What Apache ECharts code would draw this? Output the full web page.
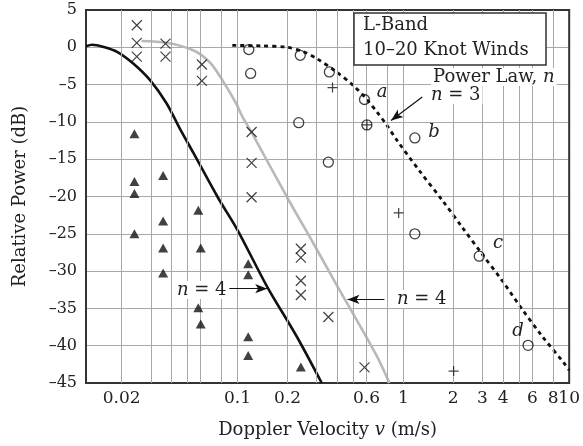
<!DOCTYPE html>
<html>
<head>
<meta charset="utf-8">
<script src="https://cdn.jsdelivr.net/npm/echarts@6/dist/echarts.min.js"></script>
<style>html,body{margin:0;padding:0;background:#fff;}#c{width:583px;height:446px;}</style>
</head>
<body>
<div id="c"></div>
<script>
// ---- data ----
const xTickLabels = [0.02, 0.1, 0.2, 0.6, 1, 2, 3, 4, 6, 8, 10];
const xGridValues = [0.02, 0.03, 0.04, 0.05, 0.06, 0.08, 0.1, 0.2, 0.3, 0.4, 0.5, 0.6, 0.8, 1, 2, 3, 4, 5, 6, 8];

const blackV  = [0.0122, 0.0133, 0.0156, 0.0188, 0.0236, 0.0297, 0.0373, 0.0449, 0.054, 0.076, 0.1, 0.151, 0.228, 0.322];
const blackDb = [0.15, 0.35, 0.05, -0.6, -2.2, -4.4, -7.5, -10.9, -14.1, -20.1, -24.5, -32.1, -38.8, -45];

const grayV  = [0.0264, 0.0373, 0.054, 0.068, 0.081, 0.098, 0.107, 0.123, 0.199, 0.287, 0.395, 0.685, 0.824];
const grayDb = [0.85, 0.6, -0.4, -2.0, -4.4, -7.5, -9.3, -11.6, -20.1, -26.3, -31.8, -41.2, -45];

const dashV  = [0.093, 0.138, 0.199, 0.25, 0.30, 0.395, 0.498, 0.598, 0.70, 0.787, 0.904, 1.245, 1.717, 2.26, 2.98, 3.92, 5.16, 6.8, 9.36, 10];
const dashDb = [0.25, 0.2, 0.0, -0.6, -1.5, -3.3, -5.1, -6.9, -8.8, -10.3, -12.3, -16.5, -20.5, -24.1, -27.7, -31.2, -35.0, -38.6, -42.4, -43.3];

const crossV  = [0.0247, 0.0247, 0.0247, 0.0368, 0.0368, 0.061, 0.061, 0.1216, 0.1216, 0.1216, 0.241, 0.241, 0.241, 0.241, 0.353, 0.583];
const crossDb = [2.95, 0.6, -1.25, 0.5, -1.25, -2.3, -4.5, -11.35, -15.5, -20.1, -27.0, -28.2, -31.3, -33.2, -36.15, -42.9];

const circleV  = [0.117, 0.120, 0.239, 0.234, 0.358, 0.353, 0.583, 0.603, 1.173, 1.173, 2.868, 5.65];
const circleDb = [-0.3, -3.5, -1.07, -10.1, -3.3, -15.4, -7.0, -10.4, -12.15, -25.0, -28.0, -39.95];

const plusV  = [0.374, 0.603, 0.937, 2.01];
const plusDb = [-5.4, -10.4, -22.2, -43.4];

const triV  = [0.0239, 0.0239, 0.0239, 0.0239, 0.0356, 0.0356, 0.0356, 0.0356, 0.058, 0.06, 0.058, 0.06, 0.116, 0.116, 0.116, 0.116, 0.241];
const triDb = [-11.6, -18.0, -19.6, -25.0, -17.2, -23.3, -26.9, -30.25, -21.85, -26.9, -34.9, -37.1, -29.0, -30.5, -38.8, -41.3, -42.85];

// annotation arrows (data coords: [from],[to])
const arrowN3     = [[1.30, -6.66], [0.843, -9.8]];
const arrowN4Blk  = [[0.0892, -32.35], [0.151, -32.35]];
const arrowN4Gray = [[0.769, -33.8], [0.46, -33.8]];

// ---- chart ----
const FONT = 'DejaVu Serif';
const zip = (a, b) => a.map((v, i) => [v, b[i]]);
const chart = echarts.init(document.getElementById('c'), null, {renderer: 'canvas'});

const markerStroke = {color: 'rgba(0,0,0,0)', borderColor: '#111', borderWidth: 1.2};

const option = {
  animation: false,
  backgroundColor: '#fff',
  grid: {left: 86, right: 9, top: 10, bottom: 63, show: true, borderColor: '#333', borderWidth: 2, backgroundColor: 'transparent', z: 3},
  xAxis: {
    type: 'log', logBase: 10, min: 0.0122, max: 10,
    axisLine: {show: false},
    axisTick: {show: false},
    splitLine: {show: false},
    minorSplitLine: {show: false},
    axisLabel: {
      customValues: xTickLabels,
      fontFamily: FONT, fontSize: 17, color: '#222', margin: 7,
      formatter: v => String(+(+v).toPrecision(3))
    },
    name: 'Doppler Velocity {i|v} (m/s)',
    nameLocation: 'middle', nameGap: 38,
    nameTextStyle: {fontFamily: FONT, fontSize: 18, color: '#222',
      rich: {i: {fontFamily: FONT, fontSize: 18, fontStyle: 'italic', color: '#222'}}}
  },
  yAxis: {
    type: 'value', min: -45, max: 5, interval: 5,
    axisLine: {show: false},
    axisTick: {show: false},
    splitLine: {show: true, lineStyle: {color: '#a8a8a8', width: 1}},
    axisLabel: {fontFamily: FONT, fontSize: 16, color: '#222', margin: 9,
      formatter: v => v < 0 ? '\u2013' + Math.abs(v) : String(v)},
    name: 'Relative Power (dB)',
    nameLocation: 'middle', nameGap: 57,
    nameTextStyle: {fontFamily: FONT, fontSize: 18, color: '#222'}
  },
  series: [
    {
      type: 'line', data: [], z: 0, silent: true,
      markLine: {
        silent: true, symbol: ['none', 'none'], animation: false,
        label: {show: false},
        lineStyle: {color: '#a8a8a8', width: 1, type: 'solid'},
        emphasis: {disabled: true},
        data: xGridValues.map(v => ({xAxis: v}))
      }
    },
    {type: 'line', data: zip(blackV, blackDb), smooth: 0.3, showSymbol: false, symbol: 'none',
      lineStyle: {color: '#111', width: 2.6}, z: 4},
    {type: 'line', data: zip(grayV, grayDb), smooth: 0.3, showSymbol: false, symbol: 'none',
      lineStyle: {color: '#b9b9b9', width: 2.6}, z: 4},
    {type: 'line', data: zip(dashV, dashDb), smooth: 0.3, showSymbol: false, symbol: 'none',
      lineStyle: {color: '#111', width: 2.8, type: [4, 4]}, z: 4},
    {type: 'scatter', data: zip(crossV, crossDb), symbol: 'path://M0,0L10,10M10,0L0,10', symbolSize: 10,
      itemStyle: markerStroke, z: 5},
    {type: 'scatter', data: zip(circleV, circleDb), symbol: 'circle', symbolSize: 10,
      itemStyle: {color: 'rgba(0,0,0,0)', borderColor: '#111', borderWidth: 1.3}, z: 5},
    {type: 'scatter', data: zip(plusV, plusDb), symbol: 'path://M5,0L5,10M0,5L10,5', symbolSize: 10,
      itemStyle: markerStroke, z: 5},
    {type: 'scatter', data: zip(triV, triDb), symbol: 'triangle', symbolSize: [10, 9],
      itemStyle: {color: '#111'}, z: 5},
    {
      type: 'line', data: [], z: 6, silent: true,
      markLine: {
        silent: true, animation: false, symbol: ['none', 'arrow'], symbolSize: [7, 12],
        label: {show: false},
        lineStyle: {color: '#111', width: 1.2, type: 'solid'},
        emphasis: {disabled: true},
        data: [arrowN3, arrowN4Blk, arrowN4Gray].map(a => [{coord: a[0]}, {coord: a[1]}])
      }
    }
  ],
  graphic: [
    {type: 'rect', shape: {x: 354, y: 13, width: 192, height: 52}, style: {fill: '#fff', stroke: '#333', lineWidth: 1.5}, z: 10},
    {type: 'text', x: 363, y: 25.5, style: {text: 'L-Band', font: '18px "DejaVu Serif"', fill: '#222', verticalAlign: 'middle'}, z: 11},
    {type: 'text', x: 363, y: 50.5, style: {text: '10\u201320 Knot Winds', font: '18px "DejaVu Serif"', fill: '#222', verticalAlign: 'middle'}, z: 11},
    {type: 'text', x: 431, y: 77, z: 11, style: {text: 'Power Law, {i|n}', fontFamily: FONT, fontSize: 18, fill: '#222', verticalAlign: 'middle',
      backgroundColor: '#fff', padding: [0, 2], rich: {i: {fontFamily: FONT, fontSize: 18, fontStyle: 'italic', fill: '#222'}}}},
    {type: 'text', x: 429, y: 95, z: 11, style: {text: '{i|n} = 3', fontFamily: FONT, fontSize: 18, fill: '#222', verticalAlign: 'middle',
      backgroundColor: '#fff', padding: [0, 2], rich: {i: {fontFamily: FONT, fontSize: 18, fontStyle: 'italic', fill: '#222'}}}},
    {type: 'text', x: 175, y: 290, z: 11, style: {text: '{i|n} = 4', fontFamily: FONT, fontSize: 18, fill: '#222', verticalAlign: 'middle',
      backgroundColor: '#fff', padding: [0, 2], rich: {i: {fontFamily: FONT, fontSize: 18, fontStyle: 'italic', fill: '#222'}}}},
    {type: 'text', x: 395, y: 299, z: 11, style: {text: '{i|n} = 4', fontFamily: FONT, fontSize: 18, fill: '#222', verticalAlign: 'middle',
      backgroundColor: '#fff', padding: [0, 2], rich: {i: {fontFamily: FONT, fontSize: 18, fontStyle: 'italic', fill: '#222'}}}},
    {type: 'text', x: 382, y: 92, z: 11, style: {text: 'a', font: 'italic 18px "DejaVu Serif"', fill: '#222', align: 'center', verticalAlign: 'middle'}},
    {type: 'text', x: 434, y: 132, z: 11, style: {text: 'b', font: 'italic 18px "DejaVu Serif"', fill: '#222', align: 'center', verticalAlign: 'middle'}},
    {type: 'text', x: 498, y: 243, z: 11, style: {text: 'c', font: 'italic 18px "DejaVu Serif"', fill: '#222', align: 'center', verticalAlign: 'middle'}},
    {type: 'text', x: 518, y: 331, z: 11, style: {text: 'd', font: 'italic 18px "DejaVu Serif"', fill: '#222', align: 'center', verticalAlign: 'middle'}}
  ]
};
chart.setOption(option);
</script>
</body>
</html>
